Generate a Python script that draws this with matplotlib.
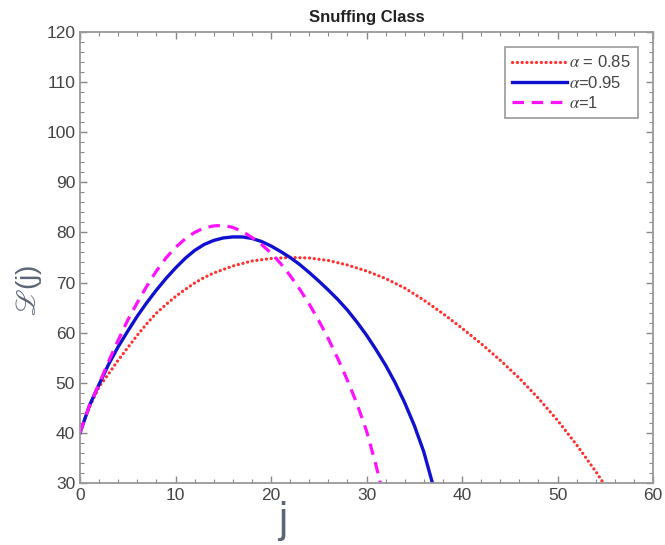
"""
snuffing class curves for three alpha values
"""

import matplotlib
matplotlib.use("Agg")
import matplotlib.pyplot as plt
from matplotlib.ticker import MultipleLocator

# values
j_085 = [0, 0.5, 1, 2, 3, 4, 5, 6, 7, 8, 9, 10, 11, 12, 13, 14, 16, 18, 20, 22,
         24, 26, 28, 30, 32, 34, 36, 38, 40, 42, 44, 46, 48, 50, 52, 54, 54.8]
L_085 = [40, 42.8, 45.2, 49.2, 51.8, 54.5, 57.0, 59.5, 61.8, 63.9, 65.6, 67.2,
         68.6, 69.9, 71.0, 71.9, 73.3, 74.3, 74.8, 75.0, 74.9, 74.4, 73.5, 72.3,
         70.8, 68.9, 66.5, 63.8, 60.9, 57.8, 54.5, 50.9, 46.9, 42.5, 37.6, 32.3,
         30]

j_095 = [0, 1, 2, 3, 4, 5, 6, 7, 8, 9, 10, 11, 12, 13, 14, 15, 16, 17, 18, 19,
         20, 21, 22, 23, 24, 25, 26, 27, 28, 29, 30, 31, 32, 33, 34, 35, 36,
         36.9]
L_095 = [40, 45.5, 49.7, 53.7, 57.2, 60.3, 63.3, 66.0, 68.5, 70.8, 72.9, 74.8,
         76.4, 77.6, 78.4, 78.9, 79.1, 79.1, 78.8, 78.2, 77.3, 76.2, 75.0, 73.6,
         72.0, 70.3, 68.5, 66.6, 64.5, 62.1, 59.5, 56.6, 53.5, 50.0, 46.0, 41.5,
         36.2, 30]

j_1 = [0, 1, 2, 3, 4, 5, 6, 7, 8, 9, 10, 11, 12, 13, 14, 15, 16, 17, 18, 19,
       20, 21, 22, 23, 24, 25, 26, 27, 28, 29, 30, 31, 31.45]
L_1 = [40, 45.5, 49.8, 54.3, 58.5, 62.5, 66.0, 69.3, 72.3, 74.9, 77.0, 78.7,
       80.0, 80.9, 81.3, 81.4, 81.0, 80.2, 79.0, 77.6, 75.9, 73.8, 71.4, 68.7,
       65.7, 62.4, 58.8, 54.8, 50.5, 45.8, 40.4, 33.5, 30]

labels = [r"$\alpha$ = 0.85", r"$\alpha$=0.95", r"$\alpha$=1"]

plt.rcParams["mathtext.fontset"] = "stix"
plt.rcParams["font.family"] = "Liberation Sans"

fig = plt.figure(figsize=(6.65, 5.45), dpi=100)
ax = fig.add_axes([0.1203, 0.1138, 0.8617, 0.8275])

ax.plot(j_085, L_085, color="#ff3030", linewidth=2.3,
        linestyle=(0, (0.05, 1.45)), dash_capstyle="round", label=labels[0])
ax.plot(j_095, L_095, color="#1010d0", linewidth=2.4,
        solid_joinstyle="round", label=labels[1])
ax.plot(j_1, L_1, color="#ff10ff", linewidth=2.3,
        linestyle=(0, (3.6, 2.4)), label=labels[2])

ax.set_xlim(0, 60)
ax.set_ylim(30, 120)
ax.xaxis.set_major_locator(MultipleLocator(10))
ax.xaxis.set_minor_locator(MultipleLocator(2))
ax.yaxis.set_major_locator(MultipleLocator(10))
ax.yaxis.set_minor_locator(MultipleLocator(2))
ax.tick_params(which="both", direction="in", top=True, right=True,
               color="#888888", labelcolor="#444444", labelsize=12.5)
ax.tick_params(which="major", length=5, width=1)
ax.tick_params(which="minor", length=3, width=0.8)
for s in ax.spines.values():
    s.set_color("#999999")
    s.set_linewidth(1.3)

ax.set_title("Snuffing Class", fontsize=12, fontweight="bold", color="#222222",
             pad=7)

ax.set_xlabel("j", fontsize=30, color="#5b6578", fontweight="light")
ax.xaxis.set_label_coords(0.354, -0.04, transform=ax.transAxes)
ax.xaxis.label.set_verticalalignment("top")

ax.set_ylabel(r"$\mathscr{L}$(j)", fontsize=20, color="#5b6578")
ax.yaxis.set_label_coords(-0.062, 0.426, transform=ax.transAxes)

leg = ax.legend(loc="upper right", fontsize=12, handlelength=3.3,
                fancybox=False, framealpha=1, edgecolor="#999999",
                borderaxespad=0.9, handletextpad=0.1, labelspacing=0.25,
                borderpad=0.45)
leg.get_frame().set_linewidth(1.2)
for t in leg.get_texts():
    t.set_color("#444444")

plt.savefig("out.png", dpi=100)
